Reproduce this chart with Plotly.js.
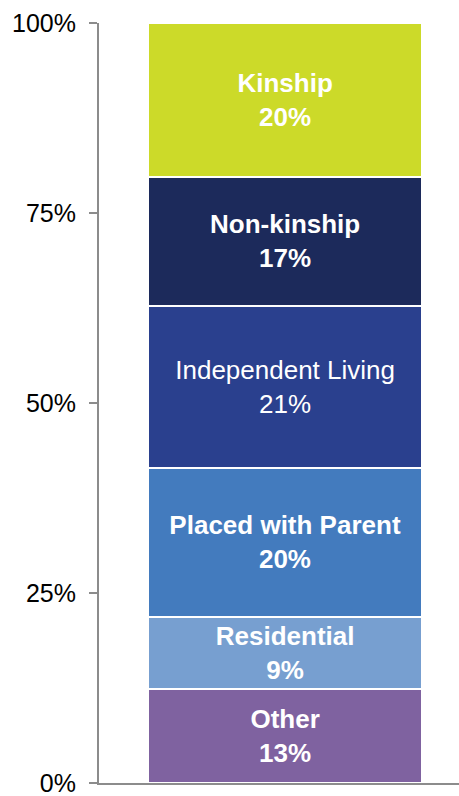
<!DOCTYPE html>
<html>
<head>
<meta charset="utf-8">
<script src="https://cdn.plot.ly/plotly-3.0.1.min.js"></script>
<style>html,body{margin:0;padding:0;background:#fff;overflow:hidden;}#chart{width:459px;height:804px;}</style>
</head>
<body>
<div id="chart"></div>
<script>
// Segments from bottom to top
const categories = ["Other", "Residential", "Placed with Parent", "Independent Living", "Non-kinship", "Kinship"];
const values = [12.4, 9.5, 19.6, 21.3, 17.0, 20.2];
const pctLabels = ["13%", "9%", "20%", "21%", "17%", "20%"];
const boldLabel = [true, true, true, false, true, true];
const colors = ["#7F62A0", "#779FD0", "#437BBE", "#2A408E", "#1C2A5B", "#CCDA29"];
const tickVals = [0, 25, 50, 75, 100];
const tickText = ["0%", "25%", "50%", "75%", "100%"];

const traces = categories.map((c, i) => {
  const t = c + "<br>" + pctLabels[i];
  return {
    type: "bar",
    x: [0],
    y: [values[i]],
    width: 0.761,
    name: c,
    text: [boldLabel[i] ? "<b>" + t + "</b>" : t],
    textposition: "inside",
    insidetextanchor: "middle",
    constraintext: "none",
    textangle: 0,
    textfont: {family: "Liberation Sans, Arial, sans-serif", size: 26, color: "#ffffff"},
    marker: {color: colors[i], line: {color: "#ffffff", width: 2}},
    hoverinfo: "none"
  };
});

const layout = {
  width: 459,
  height: 804,
  margin: {l: 99, r: 0, t: 23, b: 21},
  barmode: "stack",
  showlegend: false,
  paper_bgcolor: "#ffffff",
  plot_bgcolor: "#ffffff",
  font: {family: "Liberation Sans, Arial, sans-serif", color: "#000000"},
  xaxis: {
    range: [-0.517, 0.483],
    showticklabels: false,
    ticks: "",
    showgrid: false,
    zeroline: false,
    showline: true,
    linecolor: "#8c8c8c",
    linewidth: 2,
    fixedrange: true
  },
  yaxis: {
    range: [0, 100],
    tickvals: tickVals,
    ticktext: tickText,
    ticks: "outside",
    ticklen: 8,
    tickwidth: 2,
    tickcolor: "#8c8c8c",
    ticklabelstandoff: 8,
    tickfont: {family: "Liberation Sans, Arial, sans-serif", size: 25, color: "#000000"},
    showgrid: false,
    zeroline: false,
    showline: true,
    linecolor: "#8c8c8c",
    linewidth: 2,
    fixedrange: true
  }
};

Plotly.newPlot("chart", traces, layout, {displayModeBar: false, staticPlot: true});
</script>
</body>
</html>
